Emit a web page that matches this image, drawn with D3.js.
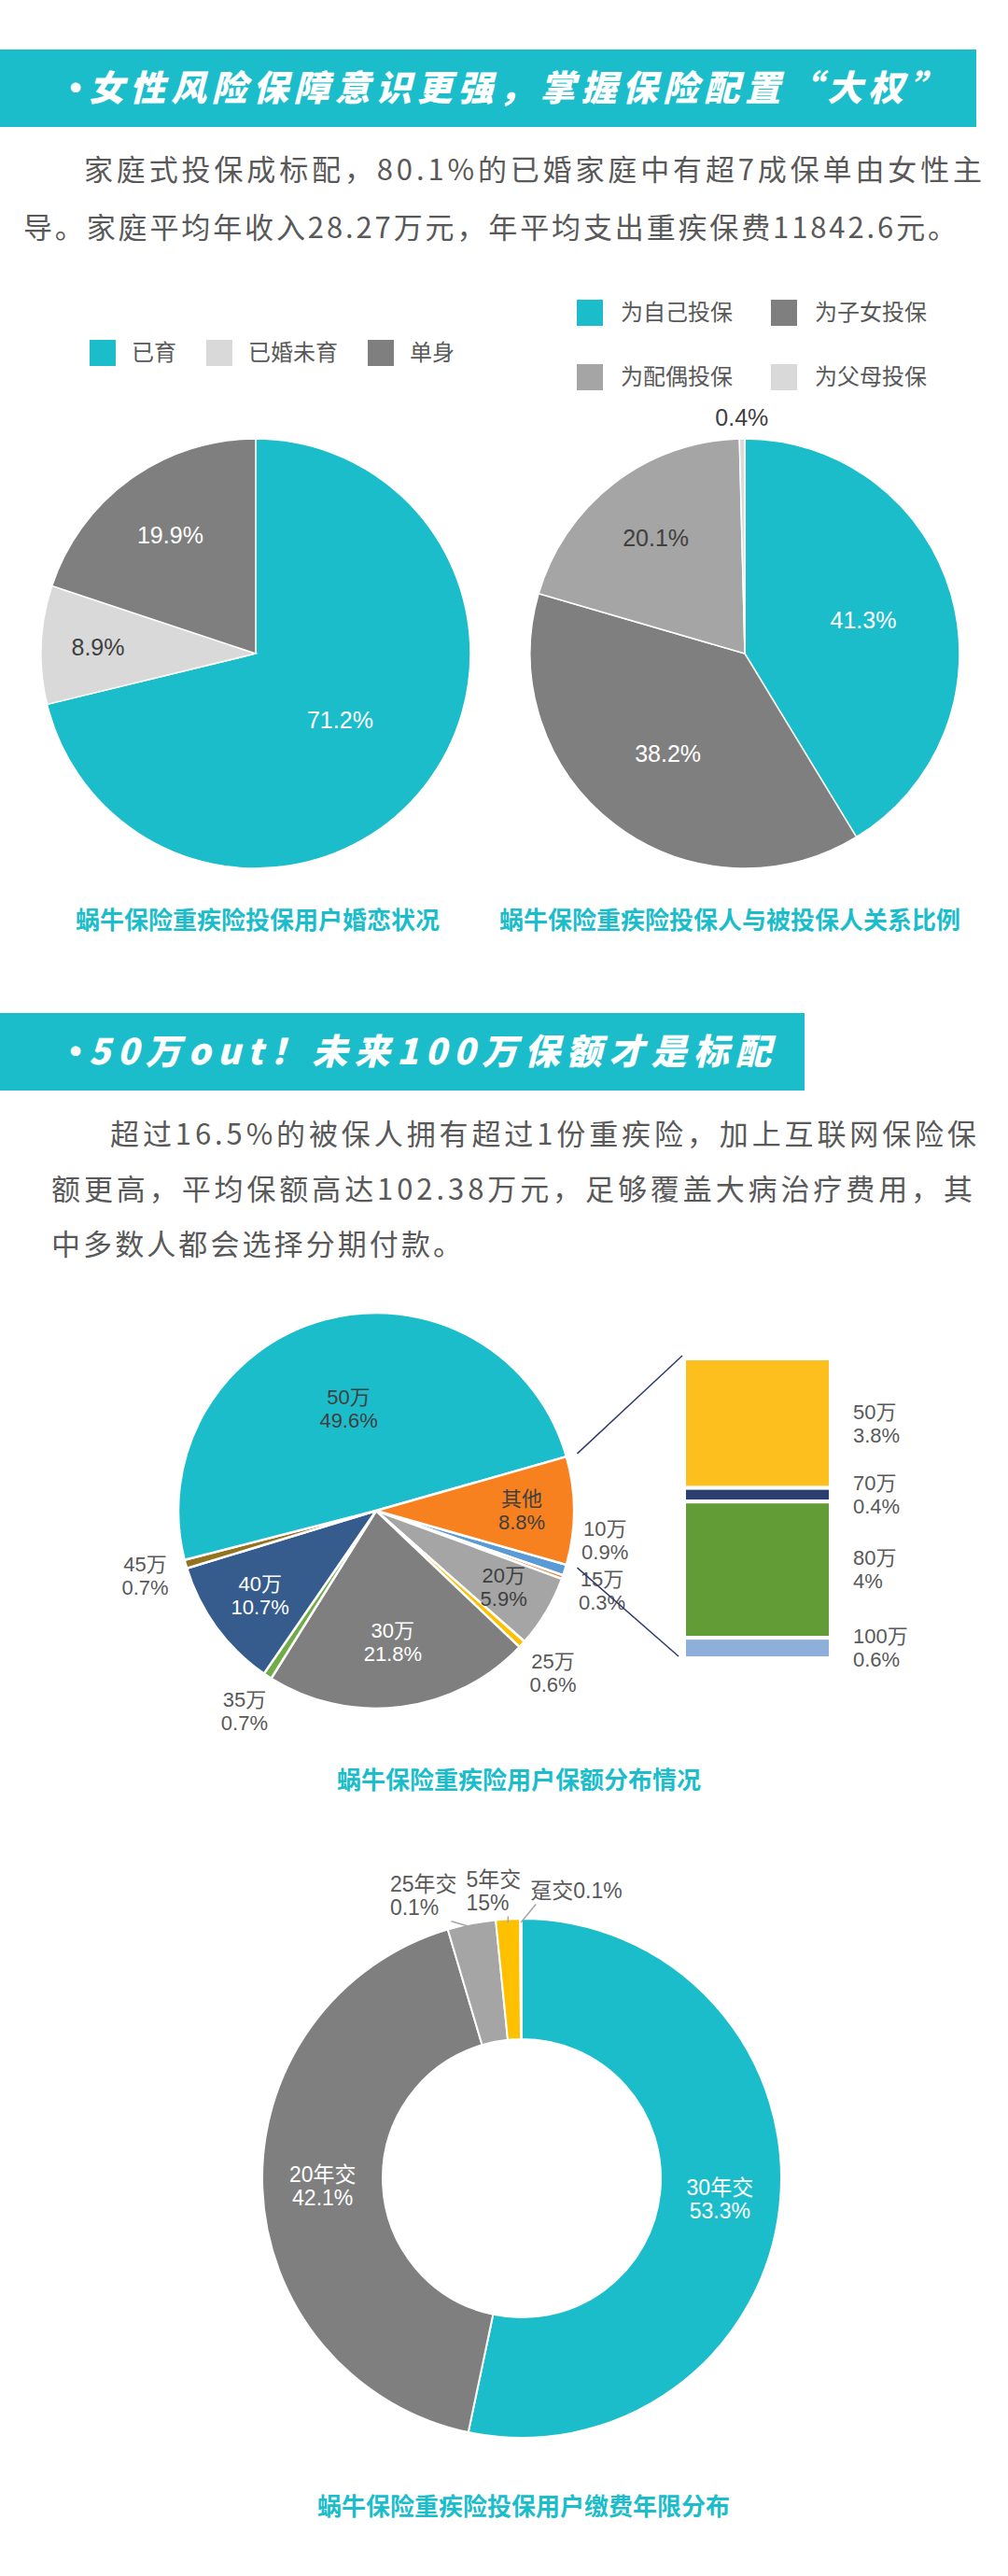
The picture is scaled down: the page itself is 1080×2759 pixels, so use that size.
<!DOCTYPE html>
<html>
<head>
<meta charset="utf-8">
<script src="https://cdn.jsdelivr.net/npm/d3@7"></script>
<style>
    html, body { margin: 0; padding: 0; background: #fff; }
    svg { display: block; }
    text { font-family: "Noto Sans CJK SC", "Noto Sans", sans-serif; }
    text.lbl { font-family: "Liberation Sans", "Noto Sans CJK SC", sans-serif; }
</style>
</head>
<body>
<svg id="page" width="1080" height="2759"></svg>
<script>

// DATA

var maritalCats = ["已育", "已婚未育", "单身"];
var maritalVals = [71.2, 8.9, 19.9];

var relationCats = ["为自己投保", "为子女投保", "为配偶投保", "为父母投保"];
var relationVals = [41.3, 38.2, 20.1, 0.4];

var amountCats = ["10万", "15万", "20万", "25万", "30万", "35万", "40万", "45万", "50万", "其他"];
var amountVals = [0.9, 0.3, 5.9, 0.6, 21.8, 0.7, 10.7, 0.7, 49.6, 8.8];

var otherCats = ["50万", "70万", "80万", "100万"];
var otherVals = [3.8, 0.4, 4, 0.6];

var termCats = ["30年交", "20年交", "25年交", "5年交", "趸交"];
var termVals = [53.3, 42.1, 3.0, 1.5, 0.1];
var termPctLabels = ["53.3%", "42.1%", "0.1%", "15%", "0.1%"];

// STYLE

var TEAL = "#1BBDCB",
    DARK = "#404040",
    MID = "#595959";

var maritalColors = [TEAL, "#D9D9D9", "#7F7F7F"],
    maritalText = ["#fff", DARK, "#fff"];
var relationColors = [TEAL, "#7F7F7F", "#A5A5A5", "#D9D9D9"],
    relationText = ["#fff", "#fff", DARK, DARK];
var amountColors = ["#5B9BD5", "#ED7D31", "#A5A5A5", "#FFC000", "#7F7F7F", "#70AD47", "#365C8D", "#94731F", TEAL, "#F7801F"],
    amountText = [MID, MID, DARK, MID, "#fff", MID, "#fff", MID, DARK, DARK];
var otherColors = ["#FDBF1E", "#2B3F6E", "#629C36", "#8EAFD9"];
var termColors = [TEAL, "#7F7F7F", "#A5A5A5", "#FFC000", "#4472C4"];
var termBreak = [true, true, true, true, false];

var LH = 25; // line step of two-line slice labels

var svg = d3.select("#page");
svg.append("rect").attr("width", 1080).attr("height", 2759).attr("fill", "#fff");

var pie = d3.pie().sort(null).value(function (d) { return d; });

function labelFactor(f) {
    return Math.max(0.5, Math.min(0.9, 0.78 - 0.5 * f));
}

function midAngle(a) { return (a.startAngle + a.endAngle) / 2; }

// one <text> per line, so lines never share a box
function addLines(g, lines, x, yc, lh, anchor, size, color) {
    var y0 = yc - (lines.length - 1) * lh / 2;
    var nodes = lines.map(function (l, i) {
        return g.append("text")
            .attr("class", "lbl")
            .attr("text-anchor", anchor)
            .attr("x", x).attr("y", y0 + i * lh).attr("dy", "0.35em")
            .style("font-size", size + "px")
            .attr("fill", color)
            .text(l);
    });
    return nodes;
}

// HEADINGS AND PARAGRAPHS

function heading(y, h, w, txt, len) {
    svg.append("rect").attr("x", 0).attr("y", y).attr("width", w).attr("height", h).attr("fill", TEAL);
    svg.append("text").attr("x", 62).attr("y", y + h / 2).attr("dy", "0.35em")
        .attr("fill", "#fff").style("font-size", "38px").style("font-weight", 900).text("·");
    svg.append("text").attr("x", 95).attr("y", y + h / 2).attr("dy", "0.35em")
        .attr("fill", "#fff")
        .style("font-size", "38px").style("font-weight", 900).style("font-style", "italic")
        .attr("textLength", len).attr("lengthAdjust", "spacing")
        .text(txt);
}

function paraLine(x, yc, len, txt) {
    svg.append("text").attr("x", x).attr("y", yc).attr("dy", "0.35em")
        .attr("fill", MID).style("font-size", "31px")
        .attr("textLength", len).attr("lengthAdjust", "spacing")
        .text(txt);
}

heading(53, 83, 1046, "女性风险保障意识更强，掌握保险配置“大权”", 917);
paraLine(90, 182, 962, "家庭式投保成标配，80.1%的已婚家庭中有超7成保单由女性主");
paraLine(25, 244, 1000, "导。家庭平均年收入28.27万元，年平均支出重疾保费11842.6元。");

heading(1085, 83, 862, "50万out！未来100万保额才是标配", 731);
paraLine(118, 1215, 928, "超过16.5%的被保人拥有超过1份重疾险，加上互联网保险保");
paraLine(55, 1274, 987, "额更高，平均保额高达102.38万元，足够覆盖大病治疗费用，其");
paraLine(55, 1333, 440, "中多数人都会选择分期付款。");

function caption(x, y, txt) {
    svg.append("text").attr("x", x).attr("y", y).attr("text-anchor", "middle")
        .attr("fill", TEAL).style("font-size", "26px").style("font-weight", 700)
        .text(txt);
}

// PIE 1 - marital status

var g1 = svg.append("g").attr("transform", "translate(274,700)");
var r1 = 230;
var arcs1 = pie(maritalVals);
var total1 = d3.sum(maritalVals);

g1.selectAll("path").data(arcs1).enter().append("path")
    .attr("d", d3.arc().innerRadius(0).outerRadius(r1))
    .attr("fill", function (d, i) { return maritalColors[i]; })
    .attr("stroke", "#fff").attr("stroke-width", 1.5);

arcs1.forEach(function (a, i) {
    var R = r1 * labelFactor(a.value / total1), m = midAngle(a);
    addLines(g1, [a.value + "%"], R * Math.sin(m), -R * Math.cos(m), LH, "middle", 25, maritalText[i]);
});

// legend, one row
var lx = 96;
maritalCats.forEach(function (c, i) {
    svg.append("rect").attr("x", lx).attr("y", 364).attr("width", 28).attr("height", 28).attr("fill", maritalColors[i]);
    var t = svg.append("text").attr("x", lx + 45).attr("y", 378).attr("dy", "0.35em")
        .attr("fill", MID).style("font-size", "24px").text(c);
    lx = lx + 45 + t.node().getComputedTextLength() + 32;
});

caption(276, 995, "蜗牛保险重疾险投保用户婚恋状况");

// PIE 2 - relation

var g2 = svg.append("g").attr("transform", "translate(798,700)");
var r2 = 230;
var arcs2 = pie(relationVals);
var total2 = d3.sum(relationVals);

g2.selectAll("path").data(arcs2).enter().append("path")
    .attr("d", d3.arc().innerRadius(0).outerRadius(r2))
    .attr("fill", function (d, i) { return relationColors[i]; })
    .attr("stroke", "#fff").attr("stroke-width", 1.5);

arcs2.forEach(function (a, i) {
    var f = a.value / total2, m = midAngle(a);
    var R = f < 0.01 ? r2 + 23 : r2 * labelFactor(f);
    addLines(g2, [a.value + "%"], R * Math.sin(m), -R * Math.cos(m), LH, "middle", 25, relationText[i]);
});

relationCats.forEach(function (c, i) {
    var col = i % 2, row = Math.floor(i / 2);
    var x = 618 + col * 208, y = 335 + row * 69;
    svg.append("rect").attr("x", x).attr("y", y - 14).attr("width", 28).attr("height", 28).attr("fill", relationColors[i]);
    svg.append("text").attr("x", x + 47).attr("y", y).attr("dy", "0.35em")
        .attr("fill", MID).style("font-size", "24px").text(c);
});

caption(782, 995, "蜗牛保险重疾险投保人与被投保人关系比例");

// PIE 3 - sum insured, pie of pie

var cx3 = 403, cy3 = 1618, r3 = 212;
var total3 = d3.sum(amountVals);
var otherIdx = amountCats.indexOf("其他");
// turn the pie so that the "其他" slice faces the secondary bar
var before = d3.sum(amountVals.slice(0, otherIdx)) + amountVals[otherIdx] / 2;
var start3 = Math.PI / 2 - before / total3 * 2 * Math.PI;
var arcs3 = d3.pie().sort(null).value(function (d) { return d; })
    .startAngle(start3).endAngle(start3 + 2 * Math.PI)(amountVals);

var g3 = svg.append("g").attr("transform", "translate(" + cx3 + "," + cy3 + ")");
g3.selectAll("path").data(arcs3).enter().append("path")
    .attr("d", d3.arc().innerRadius(0).outerRadius(r3))
    .attr("fill", function (d, i) { return amountColors[i]; })
    .attr("stroke", "#fff").attr("stroke-width", 2.5);

var outside3 = [];
arcs3.forEach(function (a, i) {
    var f = a.value / total3, m = midAngle(a);
    var lines = [amountCats[i], a.value + "%"];
    if (f < 0.02) {
        var R = r3 + 45;
        outside3.push({ i: i, lines: lines, x: R * Math.sin(m), y: -R * Math.cos(m), side: Math.sin(m) > 0 ? 1 : -1 });
    } else {
        var R2 = r3 * labelFactor(f);
        addLines(g3, lines, R2 * Math.sin(m), -R2 * Math.cos(m), LH, "middle", 22, amountText[i]);
    }
});

// outside labels that collide: the upper one gives way upward
var minGap = 2 * LH + 4;
[1, -1].forEach(function (s) {
    var side = outside3.filter(function (o) { return o.side === s; })
        .sort(function (a, b) { return b.y - a.y; });
    for (var j = 1; j < side.length; j++) {
        var gap = side[j - 1].y - side[j].y;
        if (gap < minGap) side[j].y -= (minGap - gap);
    }
});
outside3.forEach(function (o) {
    addLines(g3, o.lines, o.x, o.y, LH, "middle", 22, amountText[o.i]);
});

// secondary stacked bar
var barX = 733, barW = 157;
var barY = d3.scaleLinear().domain([0, d3.sum(otherVals)]).range([1455, 1776]);
var stack = [], acc = 0;
otherVals.forEach(function (v, i) {
    stack.push({ v: v, y0: acc, y1: acc + v, i: i });
    acc += v;
});

svg.selectAll("rect.other").data(stack).enter().append("rect")
    .attr("class", "other")
    .attr("x", barX)
    .attr("y", function (d) { return barY(d.y0); })
    .attr("width", barW)
    .attr("height", function (d) { return barY(d.y1) - barY(d.y0); })
    .attr("fill", function (d) { return otherColors[d.i]; })
    .attr("stroke", "#fff").attr("stroke-width", 4);

// labels beside the bar, nudged down if they would touch
var lastY = -1e9;
stack.forEach(function (d) {
    var yc = Math.max((barY(d.y0) + barY(d.y1)) / 2, lastY + minGap);
    lastY = yc;
    addLines(svg, [otherCats[d.i], d.v + "%"], barX + 181, yc, LH, "start", 22, MID);
});

// connector lines from the "其他" slice to the bar
var oa = arcs3[otherIdx], rc = r3 + 12;
svg.append("line")
    .attr("x1", cx3 + rc * Math.sin(oa.startAngle)).attr("y1", cy3 - rc * Math.cos(oa.startAngle))
    .attr("x2", barX - 2).attr("y2", barY(0) - 3)
    .attr("stroke", "#2E3A6B").attr("stroke-width", 1.5);
svg.append("line")
    .attr("x1", cx3 + rc * Math.sin(oa.endAngle)).attr("y1", cy3 - rc * Math.cos(oa.endAngle))
    .attr("x2", barX - 6).attr("y2", barY(d3.sum(otherVals)) - 2)
    .attr("stroke", "#2E3A6B").attr("stroke-width", 1.5);

caption(556, 1916, "蜗牛保险重疾险用户保额分布情况");

// DONUT - payment term

var cx4 = 559, cy4 = 2333, r4 = 278, ri4 = 149;
var total4 = d3.sum(termVals);
var arcs4 = pie(termVals);
var g4 = svg.append("g").attr("transform", "translate(" + cx4 + "," + cy4 + ")");

g4.selectAll("path").data(arcs4).enter().append("path")
    .attr("d", d3.arc().innerRadius(ri4).outerRadius(r4))
    .attr("fill", function (d, i) { return termColors[i]; })
    .attr("stroke", "#fff").attr("stroke-width", 2);

var call4 = [];
arcs4.forEach(function (a, i) {
    var f = a.value / total4, m = midAngle(a);
    var lines = termBreak[i] ? [termCats[i], termPctLabels[i]] : [termCats[i] + termPctLabels[i]];
    if (f >= 0.05) {
        var R = (ri4 + r4) / 2;
        addLines(g4, lines, R * Math.sin(m), -R * Math.cos(m), LH, "middle", 23, "#fff");
    } else {
        var ts = addLines(g4, lines, 0, 0, LH, "start", 23, MID);
        var w = d3.max(ts, function (t) { return t.node().getComputedTextLength(); });
        call4.push({ ts: ts, lines: lines, w: w, m: m,
            cx: (r4 + 30) * Math.sin(m), cy: -(r4 + 30) * Math.cos(m) });
    }
});

// spread the small callouts sideways so they do not overlap
for (var k = 0; k < 30; k++) {
    for (var j = 1; j < call4.length; j++) {
        var a0 = call4[j - 1], a1 = call4[j];
        var over = (a0.cx + a0.w / 2 + 10) - (a1.cx - a1.w / 2);
        if (over > 0) { a0.cx -= over / 2; a1.cx += over / 2; }
    }
}
call4.forEach(function (c) {
    var left = c.cx - c.w / 2;
    var y0 = c.cy - (c.lines.length - 1) * LH / 2;
    c.ts.forEach(function (t, i) { t.attr("x", left).attr("y", y0 + i * LH); });
    var bottom = c.cy + c.lines.length * LH / 2 + 2;
    var px = (r4 - 4) * Math.sin(c.m), py = -(r4 - 4) * Math.cos(c.m);
    g4.append("line")
        .attr("x1", px).attr("y1", py)
        .attr("x2", Math.max(left + 6, Math.min(left + c.w - 6, px))).attr("y2", bottom)
        .attr("stroke", "#A5A5A5").attr("stroke-width", 1.5);
});

caption(561, 2694, "蜗牛保险重疾险投保用户缴费年限分布");

</script>
</body>
</html>
